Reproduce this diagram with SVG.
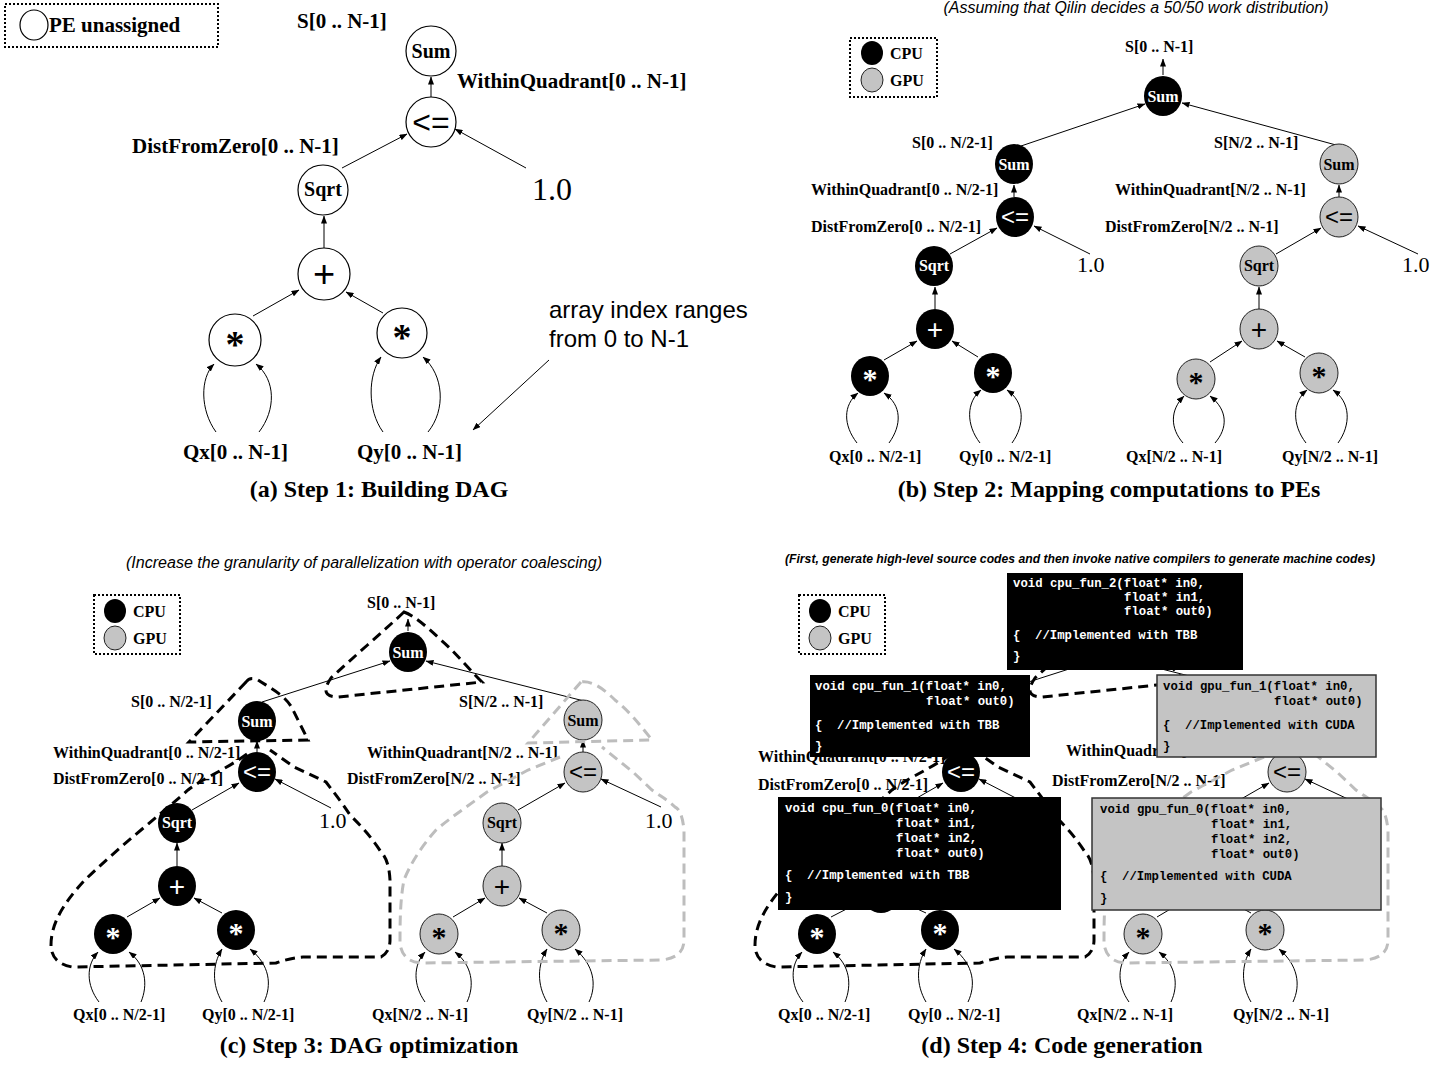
<svg xmlns="http://www.w3.org/2000/svg" width="1450" height="1066" viewBox="0 0 1450 1066">
<defs>
<marker id="ah" markerWidth="8" markerHeight="6" refX="7.5" refY="3" orient="auto" markerUnits="userSpaceOnUse"><path d="M0,0 L8,3 L0,6 z" fill="#000"/></marker>
<style>
text{font-family:"Liberation Serif","Times New Roman",serif;fill:#000}
.lb{font-weight:bold;font-size:16px}
.lbA{font-weight:bold;font-size:21px}
.cap{font-weight:bold;font-size:24px;text-anchor:middle}
.num{font-size:22px}
.numA{font-size:32px}
.op{font-family:"Liberation Sans",Arial,sans-serif;text-anchor:middle}
.nm{font-weight:bold;text-anchor:middle}
.sans{font-family:"Liberation Sans",Arial,sans-serif;font-size:24px}
.code{font-family:"Liberation Mono","Courier New",monospace;font-weight:bold;font-size:12.3px}
.note{font-family:"Liberation Sans",Arial,sans-serif;font-style:italic;text-anchor:middle}
.w{fill:#fff}
.e{fill:none;stroke:#000;stroke-width:1;marker-end:url(#ah)}
.cpu{fill:#000}
.gpu{fill:#c4c4c4;stroke:#222;stroke-width:1}
.un{fill:#fff;stroke:#000;stroke-width:1.2}
.dk{stroke:#000;stroke-width:3;stroke-dasharray:10 6;fill:none}
.dg{stroke:#bdbdbd;stroke-width:3;stroke-dasharray:10 6;fill:none}
.leg{fill:#fff;stroke:#000;stroke-width:2;stroke-dasharray:2 2}
.cb{fill:#000}
.gb{fill:#c4c4c4;stroke:#333;stroke-width:1.5}
</style>
</defs>
<rect width="1450" height="1066" fill="#fff"/>

<!-- ================= Panel (a) ================= -->
<g id="a-legend"><rect class="leg" x="5" y="4" width="213" height="43"/><ellipse class="un" cx="34" cy="25" rx="14" ry="15"/><text class="lbA" x="49" y="32">PE unassigned</text></g>
<g id="a-edges">
<path class="e" d="M431,97 L431,77"/>
<path class="e" d="M342,168 L407,134"/>
<path class="e" d="M526,168 L455,129"/>
<path class="e" d="M324,248 L324,216"/>
<path class="e" d="M253,316 L299,290"/>
<path class="e" d="M383,313 L346,292"/>
<path class="e" d="M216,432 C200,410 200,378 214,364"/>
<path class="e" d="M259,432 C276,410 276,380 256,364"/>
<path class="e" d="M383,432 C367,410 368,375 381,357"/>
<path class="e" d="M428,432 C446,410 444,375 423,357"/>
<path class="e" d="M549,360 L473,430"/>
</g>
<g id="a-sum"><ellipse class="un" cx="431" cy="51" rx="25" ry="25"/><text class="nm" x="431" y="58" font-size="20">Sum</text></g>
<g id="a-le"><ellipse class="un" cx="431" cy="122" rx="25" ry="25"/><text class="op" x="431" y="133" font-size="32">&lt;=</text></g>
<g id="a-sqrt"><ellipse class="un" cx="323" cy="190" rx="25" ry="25"/><text class="nm" x="323" y="196" font-size="20">Sqrt</text></g>
<g id="a-plus"><ellipse class="un" cx="324" cy="274" rx="26" ry="26"/><text class="op" x="324" y="287" font-size="38">+</text></g>
<g id="a-mul1"><ellipse class="un" cx="235" cy="340" rx="26" ry="26"/><text class="nm" x="235" y="357" font-size="38">*</text></g>
<g id="a-mul2"><ellipse class="un" cx="402" cy="333" rx="25" ry="25"/><text class="nm" x="402" y="350" font-size="38">*</text></g>
<g id="a-labels">
<text class="lbA" x="297" y="28">S[0 .. N-1]</text>
<text class="lbA" x="457" y="88">WithinQuadrant[0 .. N-1]</text>
<text class="lbA" x="132" y="153">DistFromZero[0 .. N-1]</text>
<text class="numA" x="532" y="200">1.0</text>
<text class="sans" x="549" y="318">array index ranges</text>
<text class="sans" x="549" y="347">from 0 to N-1</text>
<text class="lbA" x="183" y="459">Qx[0 .. N-1]</text>
<text class="lbA" x="357" y="459">Qy[0 .. N-1]</text>
<text class="cap" x="379" y="497">(a) Step 1: Building DAG</text>
</g>

<!-- ================= Panel (b) ================= -->
<text class="note" x="1136" y="13" font-size="16" textLength="385" lengthAdjust="spacingAndGlyphs">(Assuming that Qilin decides a 50/50 work distribution)</text>
<g id="b-legend"><rect class="leg" x="850" y="38" width="87" height="59"/><ellipse class="cpu" cx="872" cy="53" rx="11" ry="12"/><text class="lb" x="890" y="59">CPU</text><ellipse class="gpu" cx="872" cy="80" rx="11" ry="12"/><text class="lb" x="890" y="86">GPU</text></g>
<g id="b-edges">
<path class="e" d="M1163,75 L1163,59"/>
<path class="e" d="M1021,146 L1145,104"/>
<path class="e" d="M1336,145 L1182,103"/>
<path class="e" d="M1014,197 L1014,185"/>
<path class="e" d="M1339,197 L1339,185"/>
<path class="e" d="M950,254 L997,228"/>
<path class="e" d="M1090,254 L1034,226"/>
<path class="e" d="M1276,254 L1321,228"/>
<path class="e" d="M1418,254 L1358,226"/>
<path class="e" d="M935,309 L935,287"/>
<path class="e" d="M1259,309 L1259,287"/>
<path class="e" d="M884,360 L917,341"/>
<path class="e" d="M978,357 L952,341"/>
<path class="e" d="M1210,362 L1242,341"/>
<path class="e" d="M1305,357 L1277,341"/>
<path class="e" d="M857,443 C843,425 843,405 858,393"/>
<path class="e" d="M889,443 C902,425 902,405 884,393"/>
<path class="e" d="M980,443 C966,425 966,402 981,390"/>
<path class="e" d="M1012,443 C1025,425 1025,402 1007,390"/>
<path class="e" d="M1183,443 C1170,428 1170,410 1184,396"/>
<path class="e" d="M1215,443 C1228,428 1228,410 1210,396"/>
<path class="e" d="M1306,443 C1292,425 1292,402 1307,390"/>
<path class="e" d="M1338,443 C1351,425 1351,402 1333,390"/>
</g>
<g id="b-sum"><ellipse class="cpu" cx="1163" cy="96" rx="19" ry="20"/><text class="nm w" x="1163" y="102" font-size="16">Sum</text></g>
<g id="b-sum-l"><ellipse class="cpu" cx="1014" cy="164" rx="19" ry="20"/><text class="nm w" x="1014" y="170" font-size="16">Sum</text></g>
<g id="b-sum-r"><ellipse class="gpu" cx="1339" cy="164" rx="19" ry="20"/><text class="nm" x="1339" y="170" font-size="16">Sum</text></g>
<g id="b-le-l"><ellipse class="cpu" cx="1015" cy="217" rx="19" ry="20"/><text class="op w" x="1015" y="225" font-size="24">&lt;=</text></g>
<g id="b-le-r"><ellipse class="gpu" cx="1339" cy="217" rx="19" ry="20"/><text class="op" x="1339" y="225" font-size="24">&lt;=</text></g>
<g id="b-sqrt-l"><ellipse class="cpu" cx="934" cy="266" rx="19" ry="20"/><text class="nm w" x="934" y="271" font-size="16">Sqrt</text></g>
<g id="b-sqrt-r"><ellipse class="gpu" cx="1259" cy="266" rx="19" ry="20"/><text class="nm" x="1259" y="271" font-size="16">Sqrt</text></g>
<g id="b-plus-l"><ellipse class="cpu" cx="935" cy="329" rx="19" ry="20"/><text class="op w" x="935" y="339" font-size="28">+</text></g>
<g id="b-plus-r"><ellipse class="gpu" cx="1259" cy="329" rx="19" ry="20"/><text class="op" x="1259" y="339" font-size="28">+</text></g>
<g id="b-mul1"><ellipse class="cpu" cx="870" cy="376" rx="19" ry="20"/><text class="nm w" x="870" y="389" font-size="30">*</text></g>
<g id="b-mul2"><ellipse class="cpu" cx="993" cy="373" rx="19" ry="20"/><text class="nm w" x="993" y="386" font-size="30">*</text></g>
<g id="b-mul3"><ellipse class="gpu" cx="1196" cy="379" rx="19" ry="20"/><text class="nm" x="1196" y="392" font-size="30">*</text></g>
<g id="b-mul4"><ellipse class="gpu" cx="1319" cy="373" rx="19" ry="20"/><text class="nm" x="1319" y="386" font-size="30">*</text></g>
<g id="b-labels">
<text class="lb" x="1125" y="52">S[0 .. N-1]</text>
<text class="lb" x="912" y="148">S[0 .. N/2-1]</text>
<text class="lb" x="1214" y="148">S[N/2 .. N-1]</text>
<text class="lb" x="811" y="195">WithinQuadrant[0 .. N/2-1]</text>
<text class="lb" x="1115" y="195">WithinQuadrant[N/2 .. N-1]</text>
<text class="lb" x="811" y="232">DistFromZero[0 .. N/2-1]</text>
<text class="lb" x="1105" y="232">DistFromZero[N/2 .. N-1]</text>
<text class="num" x="1077" y="272">1.0</text>
<text class="num" x="1402" y="272">1.0</text>
<text class="lb" x="829" y="462">Qx[0 .. N/2-1]</text>
<text class="lb" x="959" y="462">Qy[0 .. N/2-1]</text>
<text class="lb" x="1126" y="462">Qx[N/2 .. N-1]</text>
<text class="lb" x="1282" y="462">Qy[N/2 .. N-1]</text>
<text class="cap" x="1109" y="497">(b) Step 2: Mapping computations to PEs</text>
</g>

<!-- ================= Panel (c) ================= -->
<text class="note" x="364" y="568" font-size="16" textLength="476" lengthAdjust="spacingAndGlyphs">(Increase the granularity of parallelization with operator coalescing)</text>
<g id="c-legend"><rect class="leg" x="94" y="595" width="86" height="59"/><ellipse class="cpu" cx="115" cy="611" rx="11" ry="12"/><text class="lb" x="133" y="617">CPU</text><ellipse class="gpu" cx="115" cy="638" rx="11" ry="12"/><text class="lb" x="133" y="644">GPU</text></g>
<g id="c-edges">
<path class="e" d="M408,631 L408,619"/>
<path class="e" d="M262,702 L390,661"/>
<path class="e" d="M588,702 L426,661"/>
<path class="e" d="M257,752 L257,741"/>
<path class="e" d="M583,752 L583,740"/>
<path class="e" d="M192,810 L239,783"/>
<path class="e" d="M331,808 L275,779"/>
<path class="e" d="M518,810 L565,783"/>
<path class="e" d="M661,807 L601,779"/>
<path class="e" d="M177,866 L177,843"/>
<path class="e" d="M502,866 L502,843"/>
<path class="e" d="M127,917 L160,898"/>
<path class="e" d="M222,913 L194,898"/>
<path class="e" d="M453,917 L485,898"/>
<path class="e" d="M547,913 L519,898"/>
<path class="e" d="M99,1002 C86,985 86,965 98,952"/>
<path class="e" d="M141,1002 C148,985 146,965 129,952"/>
<path class="e" d="M222,1002 C212,985 212,965 222,949"/>
<path class="e" d="M264,1002 C272,985 270,965 250,949"/>
<path class="e" d="M425,1002 C413,985 413,965 425,952"/>
<path class="e" d="M467,1002 C475,985 472,965 455,952"/>
<path class="e" d="M547,1002 C537,985 537,965 547,949"/>
<path class="e" d="M589,1002 C597,985 594,965 575,949"/>
</g>
<g id="c-sum"><ellipse class="cpu" cx="408" cy="652" rx="19" ry="20"/><text class="nm w" x="408" y="658" font-size="16">Sum</text></g>
<g id="c-sum-l"><ellipse class="cpu" cx="257" cy="721" rx="19" ry="20"/><text class="nm w" x="257" y="727" font-size="16">Sum</text></g>
<g id="c-sum-r"><ellipse class="gpu" cx="583" cy="720" rx="19" ry="20"/><text class="nm" x="583" y="726" font-size="16">Sum</text></g>
<g id="c-le-l"><ellipse class="cpu" cx="257" cy="772" rx="19" ry="20"/><text class="op w" x="257" y="780" font-size="24">&lt;=</text></g>
<g id="c-le-r"><ellipse class="gpu" cx="583" cy="772" rx="19" ry="20"/><text class="op" x="583" y="780" font-size="24">&lt;=</text></g>
<g id="c-sqrt-l"><ellipse class="cpu" cx="177" cy="823" rx="19" ry="20"/><text class="nm w" x="177" y="828" font-size="16">Sqrt</text></g>
<g id="c-sqrt-r"><ellipse class="gpu" cx="502" cy="823" rx="19" ry="20"/><text class="nm" x="502" y="828" font-size="16">Sqrt</text></g>
<g id="c-plus-l"><ellipse class="cpu" cx="177" cy="886" rx="19" ry="20"/><text class="op w" x="177" y="896" font-size="28">+</text></g>
<g id="c-plus-r"><ellipse class="gpu" cx="502" cy="886" rx="19" ry="20"/><text class="op" x="502" y="896" font-size="28">+</text></g>
<g id="c-mul1"><ellipse class="cpu" cx="113" cy="934" rx="19" ry="20"/><text class="nm w" x="113" y="947" font-size="30">*</text></g>
<g id="c-mul2"><ellipse class="cpu" cx="236" cy="930" rx="19" ry="20"/><text class="nm w" x="236" y="943" font-size="30">*</text></g>
<g id="c-mul3"><ellipse class="gpu" cx="439" cy="934" rx="19" ry="20"/><text class="nm" x="439" y="947" font-size="30">*</text></g>
<g id="c-mul4"><ellipse class="gpu" cx="561" cy="930" rx="19" ry="20"/><text class="nm" x="561" y="943" font-size="30">*</text></g>
<g id="c-labels">
<text class="lb" x="367" y="608">S[0 .. N-1]</text>
<text class="lb" x="131" y="707">S[0 .. N/2-1]</text>
<text class="lb" x="459" y="707">S[N/2 .. N-1]</text>
<text class="lb" x="53" y="758">WithinQuadrant[0 .. N/2-1]</text>
<text class="lb" x="367" y="758">WithinQuadrant[N/2 .. N-1]</text>
<text class="lb" x="53" y="784">DistFromZero[0 .. N/2-1]</text>
<text class="lb" x="347" y="784">DistFromZero[N/2 .. N-1]</text>
<text class="num" x="319" y="828">1.0</text>
<text class="num" x="645" y="828">1.0</text>
<text class="lb" x="73" y="1020">Qx[0 .. N/2-1]</text>
<text class="lb" x="202" y="1020">Qy[0 .. N/2-1]</text>
<text class="lb" x="372" y="1020">Qx[N/2 .. N-1]</text>
<text class="lb" x="527" y="1020">Qy[N/2 .. N-1]</text>
<text class="cap" x="369" y="1053">(c) Step 3: DAG optimization</text>
</g>
<g id="c-groups">
<path class="dk" d="M404,612 C385,630 350,660 331,678 Q318,697 338,697 L482,682 C465,665 455,652 441,640 C428,628 415,616 404,612 Z"/>
<path class="dk" d="M246,682 L189,742 L308,740 L292,708 C285,695 270,688 258,680 Q250,676 246,682 Z"/>
<path class="dk" d="M247,754 C225,770 200,780 188,790 C160,815 115,850 83,882 C62,905 51,925 51,945 Q51,963 72,967 L276,963 Q290,958 303,957 L381,957 Q390,952 390,940 L390,880 Q389,860 381,852 C370,835 360,825 350,815 C340,800 332,790 326,782 L294,767 L270,750"/>
<path class="dg" d="M581,682 L528,743 L652,740 C640,725 630,712 615,700 C605,690 592,680 581,682 Z"/>
<path class="dg" d="M560,757 L528,770 C510,780 500,785 487,792 C465,808 450,818 436,830 C420,848 410,865 404,880 C400,900 400,925 400,943 Q402,962 422,963 L661,960 Q684,958 684,940 L684,830 Q682,810 675,807 C668,800 660,796 652,790 L634,773 L602,747"/>
</g>

<!-- ================= Panel (d) ================= -->
<text class="note" x="1080" y="563" font-size="13" font-weight="bold" textLength="590" lengthAdjust="spacingAndGlyphs">(First, generate high-level source codes and then invoke native compilers to generate machine codes)</text>
<g id="d-legend"><rect class="leg" x="799" y="595" width="86" height="59"/><ellipse class="cpu" cx="820" cy="611" rx="11" ry="12"/><text class="lb" x="838" y="617">CPU</text><ellipse class="gpu" cx="820" cy="638" rx="11" ry="12"/><text class="lb" x="838" y="644">GPU</text></g>
<g transform="translate(704,0)">
<g id="d-edges">
<path class="e" d="M262,702 L390,661"/>
<path class="e" d="M588,702 L426,661"/>
<path class="e" d="M257,752 L257,741"/>
<path class="e" d="M583,752 L583,740"/>
<path class="e" d="M192,810 L239,783"/>
<path class="e" d="M331,808 L275,779"/>
<path class="e" d="M518,810 L565,783"/>
<path class="e" d="M661,807 L601,779"/>
<path class="e" d="M127,917 L160,900"/>
<path class="e" d="M222,913 L194,900"/>
<path class="e" d="M453,917 L485,898"/>
<path class="e" d="M547,913 L519,898"/>
<path class="e" d="M99,1002 C86,985 86,965 98,952"/>
<path class="e" d="M141,1002 C148,985 146,965 129,952"/>
<path class="e" d="M222,1002 C212,985 212,965 222,949"/>
<path class="e" d="M264,1002 C272,985 270,965 250,949"/>
<path class="e" d="M425,1002 C413,985 413,965 425,952"/>
<path class="e" d="M467,1002 C475,985 472,965 455,952"/>
<path class="e" d="M547,1002 C537,985 537,965 547,949"/>
<path class="e" d="M589,1002 C597,985 594,965 575,949"/>
</g>
<g id="d-le-l"><ellipse class="cpu" cx="257" cy="772" rx="19" ry="20"/><text class="op w" x="257" y="780" font-size="24">&lt;=</text></g>
<g id="d-le-r"><ellipse class="gpu" cx="583" cy="772" rx="19" ry="20"/><text class="op" x="583" y="780" font-size="24">&lt;=</text></g>
<g id="d-plus-l"><ellipse class="cpu" cx="177" cy="893" rx="19" ry="20"/></g>
<g id="d-mul1"><ellipse class="cpu" cx="113" cy="934" rx="19" ry="20"/><text class="nm w" x="113" y="947" font-size="30">*</text></g>
<g id="d-mul2"><ellipse class="cpu" cx="236" cy="930" rx="19" ry="20"/><text class="nm w" x="236" y="943" font-size="30">*</text></g>
<g id="d-mul3"><ellipse class="gpu" cx="439" cy="934" rx="19" ry="20"/><text class="nm" x="439" y="947" font-size="30">*</text></g>
<g id="d-mul4"><ellipse class="gpu" cx="561" cy="930" rx="19" ry="20"/><text class="nm" x="561" y="943" font-size="30">*</text></g>
<g id="d-labels">
<text class="lb" x="54" y="762">WithinQuadrant[0 .. N/2-1]</text>
<text class="lb" x="362" y="756">WithinQuadrant[N/2 .. N-1]</text>
<text class="lb" x="54" y="790">DistFromZero[0 .. N/2-1]</text>
<text class="lb" x="348" y="786">DistFromZero[N/2 .. N-1]</text>
<text class="lb" x="74" y="1020">Qx[0 .. N/2-1]</text>
<text class="lb" x="204" y="1020">Qy[0 .. N/2-1]</text>
<text class="lb" x="373" y="1020">Qx[N/2 .. N-1]</text>
<text class="lb" x="529" y="1020">Qy[N/2 .. N-1]</text>
</g>
<g id="d-groups">
<path class="dk" d="M404,612 C385,630 350,660 331,678 Q318,697 338,697 L482,682 C465,665 455,652 441,640 C428,628 415,616 404,612 Z"/>
<path class="dk" d="M246,682 L189,742 L308,740 L292,708 C285,695 270,688 258,680 Q250,676 246,682 Z"/>
<path class="dk" d="M247,754 C225,770 200,780 188,790 C160,815 115,850 83,882 C62,905 51,925 51,945 Q51,963 72,967 L276,963 Q290,958 303,957 L381,957 Q390,952 390,940 L390,880 Q389,860 381,852 C370,835 360,825 350,815 C340,800 332,790 326,782 L294,767 L270,750"/>
<path class="dg" d="M581,682 L528,743 L652,740 C640,725 630,712 615,700 C605,690 592,680 581,682 Z"/>
<path class="dg" d="M560,757 L528,770 C510,780 500,785 487,792 C465,808 450,818 436,830 C420,848 410,865 404,880 C400,900 400,925 400,943 Q402,962 422,963 L661,960 Q684,958 684,940 L684,830 Q682,810 675,807 C668,800 660,796 652,790 L634,773 L602,747"/>
</g>
</g>
<g id="d-code-cpu2"><rect class="cb" x="1007" y="573" width="236" height="97"/>
<text class="code w" x="1013" y="587">void cpu_fun_2(float* in0,</text>
<text class="code w" x="1124" y="601">float* in1,</text>
<text class="code w" x="1124" y="615">float* out0)</text>
<text class="code w" x="1013" y="639">{<tspan x="1035">//Implemented with TBB</tspan></text>
<text class="code w" x="1013" y="660">}</text></g>
<g id="d-code-cpu1"><rect class="cb" x="810" y="675" width="220" height="82"/>
<text class="code w" x="815" y="690">void cpu_fun_1(float* in0,</text>
<text class="code w" x="926" y="705">float* out0)</text>
<text class="code w" x="815" y="729">{<tspan x="837">//Implemented with TBB</tspan></text>
<text class="code w" x="815" y="750">}</text></g>
<g id="d-code-gpu1"><rect class="gb" x="1157" y="675" width="219" height="82"/>
<text class="code" x="1163" y="690">void gpu_fun_1(float* in0,</text>
<text class="code" x="1274" y="705">float* out0)</text>
<text class="code" x="1163" y="729">{<tspan x="1185">//Implemented with CUDA</tspan></text>
<text class="code" x="1163" y="750">}</text></g>
<g id="d-code-cpu0"><rect class="cb" x="778" y="797" width="283" height="113"/>
<text class="code w" x="785" y="812">void cpu_fun_0(float* in0,</text>
<text class="code w" x="896" y="827">float* in1,</text>
<text class="code w" x="896" y="842">float* in2,</text>
<text class="code w" x="896" y="857">float* out0)</text>
<text class="code w" x="785" y="879">{<tspan x="807">//Implemented with TBB</tspan></text>
<text class="code w" x="785" y="901">}</text></g>
<g id="d-code-gpu0"><rect class="gb" x="1092" y="798" width="289" height="112"/>
<text class="code" x="1100" y="813">void gpu_fun_0(float* in0,</text>
<text class="code" x="1211" y="828">float* in1,</text>
<text class="code" x="1211" y="843">float* in2,</text>
<text class="code" x="1211" y="858">float* out0)</text>
<text class="code" x="1100" y="880">{<tspan x="1122">//Implemented with CUDA</tspan></text>
<text class="code" x="1100" y="902">}</text></g>
<text class="cap" x="1062" y="1053">(d) Step 4: Code generation</text>
</svg>
